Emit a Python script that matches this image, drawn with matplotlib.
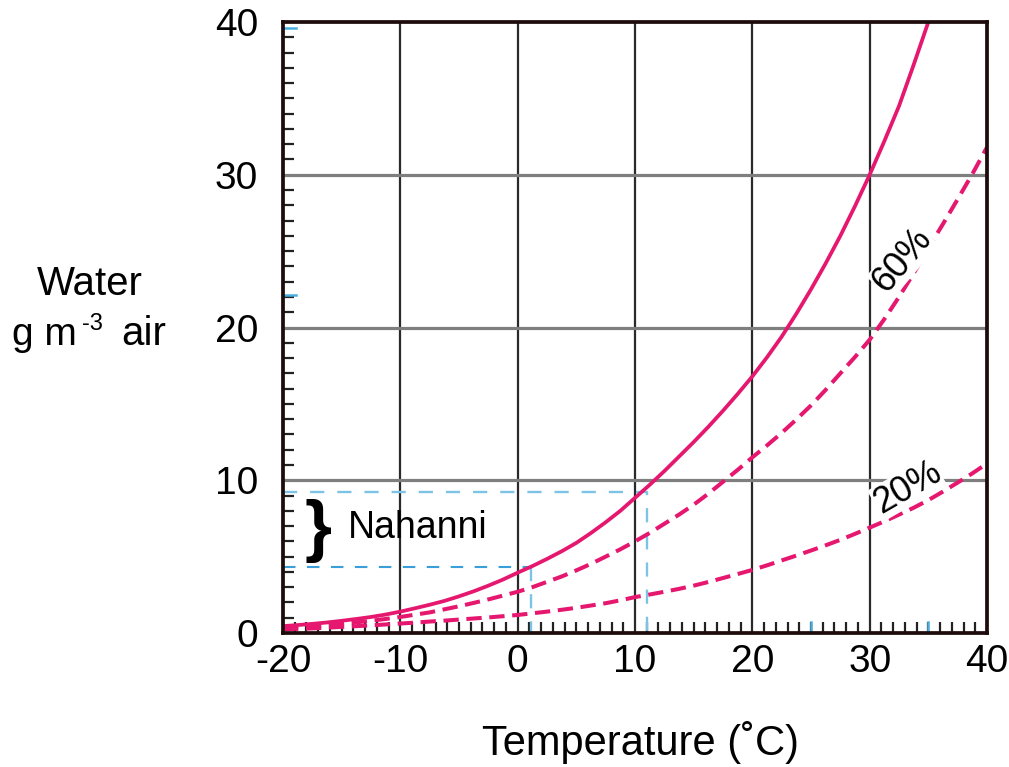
import numpy as np
import matplotlib
matplotlib.use("Agg")
import matplotlib.pyplot as plt
from matplotlib.transforms import blended_transform_factory

plt.rcParams['font.family'] = ['Liberation Sans', 'DejaVu Sans']
plt.rcParams['axes.unicode_minus'] = False

# temperatura (C) y agua (g m-3)
temp = [-20, -18.75, -17.5, -16.25, -15, -13.75, -12.5, -11.25, -10, -8.75, -7.5, -6.25,
        -5, -3.75, -2.5, -1.25, 0, 1.25, 2.5, 3.75, 5, 6.25, 7.5, 8.75, 10, 11.25, 12.5,
        13.75, 15, 16.25, 17.5, 18.75, 20, 21.25, 22.5, 23.75, 25, 26.25, 27.5, 28.75, 30,
        31.25, 32.5, 33.75, 35, 36.25, 37.5, 38.75, 40]
agua_100 = [0.45, 0.52, 0.6, 0.69, 0.8, 0.92, 1.05, 1.21, 1.4, 1.62, 1.85, 2.1,
            2.4, 2.73, 3.1, 3.5, 3.95, 4.38, 4.85, 5.35, 5.9, 6.55, 7.25, 8.0, 8.85, 9.7, 10.6,
            11.55, 12.5, 13.5, 14.55, 15.65, 16.8, 18.05, 19.4, 20.9, 22.5, 24.2, 26.0, 27.95, 30.0,
            32.2, 34.5, 37.2, 40.0, 43.0, 46.0, 49.0, 52.5]
agua_60 = [0.35, 0.4, 0.45, 0.52, 0.6, 0.7, 0.8, 0.92, 1.05, 1.2, 1.35, 1.55,
           1.75, 1.97, 2.2, 2.45, 2.7, 3.0, 3.35, 3.7, 4.1, 4.53, 5.0, 5.48, 6.0, 6.55, 7.15,
           7.75, 8.4, 9.12, 9.9, 10.68, 11.5, 12.28, 13.1, 13.98, 14.9, 15.92, 17.0, 18.07, 19.2,
           20.55, 22.0, 23.55, 25.2, 26.78, 28.4, 30.05, 31.8]
agua_20 = [0.25, 0.27, 0.3, 0.35, 0.4, 0.45, 0.5, 0.56, 0.62, 0.68, 0.75, 0.81,
           0.88, 0.95, 1.02, 1.1, 1.18, 1.29, 1.4, 1.52, 1.65, 1.8, 1.95, 2.14, 2.35, 2.52, 2.7,
           2.89, 3.1, 3.34, 3.6, 3.86, 4.13, 4.43, 4.75, 5.07, 5.4, 5.74, 6.1, 6.49, 6.9,
           7.31, 7.75, 8.2, 8.7, 9.26, 9.85, 10.45, 11.1]

# rango Nahanni (lineas azules)
nahanni_T = [1.1, 11.0]
nahanni_w = [4.3, 9.2]

x_ticks = [-20, -10, 0, 10, 20, 30, 40]
y_ticks = [0, 10, 20, 30, 40]
blue_tick_x = [25, 35]
blue_tick_y = [22.1, 39.6]

rosa = '#e5176e'
azul_claro = '#7cc3e6'
azul = '#3a9fd9'

W, H = 1009, 767

fig = plt.figure(figsize=(W / 100, H / 100), dpi=100)
ax = fig.add_axes([0.2805, 0.1747, 0.6977, 0.7966])

ax.set_xlim(-20, 40)
ax.set_ylim(0, 40)

# grilla: verticales negras, horizontales grises
for xv in x_ticks[1:-1]:
    ax.axvline(xv, color='#2a2a2a', lw=1.6, zorder=1)
for yv in y_ticks[1:-1]:
    ax.axhline(yv, color='#7f7f7f', lw=2.3, zorder=1)

# lineas azules de Nahanni
ax.plot([-20, nahanni_T[1], nahanni_T[1]], [nahanni_w[1], nahanni_w[1], 0],
        color=azul_claro, lw=1.7, dashes=(6, 5.5), zorder=2)
ax.plot([-20, nahanni_T[0]], [nahanni_w[0], nahanni_w[0]],
        color=azul, lw=1.5, dashes=(6, 5.5), zorder=2)
ax.plot([nahanni_T[0], nahanni_T[0]], [nahanni_w[0], 0],
        color=azul_claro, lw=1.7, dashes=(6, 5.5), zorder=2)

# curvas
ax.plot(temp, agua_100, color=rosa, lw=2.7, zorder=3)
ax.plot(temp, agua_60, color=rosa, lw=2.9, dashes=(3.8, 1.9), zorder=3)
ax.plot(temp, agua_20, color=rosa, lw=2.9, dashes=(3.8, 1.9), zorder=3)

ax.text(32.8, 24.4, '60%', fontsize=26, rotation=50, ha='center', va='center',
        bbox=dict(facecolor='white', edgecolor='none', pad=0), zorder=4)
ax.text(33.2, 9.5, '20%', fontsize=26, rotation=30, ha='center', va='center',
        bbox=dict(facecolor='white', edgecolor='none', pad=0), zorder=4)

# llave y nombre
ax.text(-17.0, 6.7, '}', fontsize=50, fontweight='bold', ha='center', va='center', zorder=4)
ax.text(-14.5, 6.9, 'Nahanni', fontsize=27, ha='left', va='center', zorder=4)

# ticks
ax.set_xticks(x_ticks)
ax.set_yticks(y_ticks)
ax.set_xticks(np.arange(-20, 41, 1), minor=True)
ax.set_yticks(np.arange(0, 41, 1), minor=True)
ax.tick_params(which='minor', direction='in', length=8, width=1.6, color='#222222')
ax.tick_params(which='major', direction='in', length=0, labelsize=28)
ax.tick_params(axis='x', which='major', pad=8)
ax.tick_params(axis='y', which='major', pad=18)

tx = blended_transform_factory(ax.transData, ax.transAxes)
for xv in blue_tick_x:
    ax.plot([xv, xv], [0, 0.018], color='#4aaee0', lw=1.8, transform=tx, zorder=5)
ty = blended_transform_factory(ax.transAxes, ax.transData)
for yv in blue_tick_y:
    ax.plot([0, 0.018], [yv, yv], color='#4aaee0', lw=1.8, transform=ty, zorder=5)

for s in ax.spines.values():
    s.set_color('#1e0c0c')
    s.set_linewidth(2.7)
    s.set_zorder(6)

fig.text(640 / W, 1 - 743 / H, 'Temperature (˚C)', fontsize=30, ha='center', va='center')
fig.text(90 / W, 1 - 295 / H, 'Water', fontsize=29, ha='center', va='baseline')
fig.text(12 / W, 1 - 345 / H, 'g m', fontsize=28, ha='left', va='baseline')
fig.text(82 / W, 1 - 330 / H, '-3', fontsize=17, ha='left', va='baseline')
fig.text(121 / W, 1 - 345 / H, 'air', fontsize=29, ha='left', va='baseline')

fig.savefig('out.png', dpi=100)
